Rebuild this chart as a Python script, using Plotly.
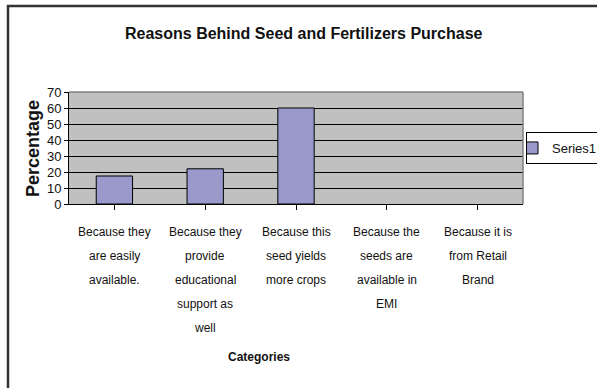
import plotly.graph_objects as go

categories = [
    "Because they<br>are easily<br>available.",
    "Because they<br>provide<br>educational<br>support as<br>well",
    "Because this<br>seed yields<br>more crops",
    "Because the<br>seeds are<br>available in<br>EMI",
    "Because it is<br>from Retail<br>Brand",
]
values = [17.5, 22, 60, 0, 0]
series_name = "Series1"
y_ticks = [0, 10, 20, 30, 40, 50, 60, 70]

FONT = "Liberation Sans, Arial, sans-serif"

W, H = 597, 388
L, R, T, B = 69, 74, 92, 184
pw, ph = W - L - R, H - T - B

def px_x(p):
    return (p - L) / pw

def px_y(p):
    return (H - B - p) / ph

fig = go.Figure()
fig.add_trace(go.Bar(
    x=list(range(len(categories))), y=values, name=series_name,
    marker=dict(color="#9999CC",
                line=dict(color="#000000", width=[1 if v > 0 else 0 for v in values])),
    width=0.4, showlegend=True,
))

annotations = []
for i, cat in enumerate(categories):
    for j, line in enumerate(cat.split("<br>")):
        annotations.append(dict(
            x=i, y=0, xref="x", yref="paper", text=line, showarrow=False,
            yanchor="middle", xanchor="center", yshift=-(28 + 24 * j),
            font=dict(family=FONT, size=12, color="#111111"),
        ))
annotations.append(dict(
    x=px_x(259), y=px_y(357), xref="paper", yref="paper", text="<b>Categories</b>",
    showarrow=False, xanchor="center", yanchor="middle",
    font=dict(family=FONT, size=12, color="#111111"),
))
annotations.append(dict(
    x=px_x(304), y=px_y(33), xref="paper", yref="paper",
    text="<b>Reasons Behind Seed and Fertilizers Purchase</b>",
    showarrow=False, xanchor="center", yanchor="middle",
    font=dict(family=FONT, size=16, color="#111111"),
))
annotations.append(dict(
    x=px_x(33), y=px_y(149), xref="paper", yref="paper", text="<b>Percentage</b>",
    showarrow=False, xanchor="center", yanchor="middle", textangle=-90,
    font=dict(family=FONT, size=18, color="#111111"),
))

shapes = [
    dict(type="line", xref="paper", yref="paper", x0=px_x(8), x1=px_x(8),
         y0=px_y(5), y1=px_y(392), line=dict(color="#333333", width=2.5)),
    dict(type="line", xref="paper", yref="paper", x0=px_x(7), x1=px_x(600),
         y0=px_y(6), y1=px_y(6), line=dict(color="#333333", width=2.5)),
    dict(type="line", xref="paper", yref="paper", x0=0, x1=1, y0=1, y1=1,
         line=dict(color="#808080", width=1.5), layer="above"),
    dict(type="line", xref="paper", yref="paper", x0=1, x1=1, y0=0, y1=1,
         line=dict(color="#808080", width=1.5), layer="above"),
]

fig.update_layout(
    width=W, height=H,
    margin=dict(l=L, r=R, t=T, b=B, autoexpand=False),
    paper_bgcolor="#FFFFFF", plot_bgcolor="#C0C0C0",
    annotations=annotations, shapes=shapes,
    showlegend=True,
    legend=dict(
        xref="container", yref="container",
        x=526 / W, y=1 - 132 / H, xanchor="left", yanchor="top",
        bgcolor="#FFFFFF", bordercolor="#000000", borderwidth=1,
        font=dict(family=FONT, size=13, color="#111111"),
        itemwidth=30, tracegroupgap=0, indentation=-15,
    ),
    xaxis=dict(
        range=[-0.5, len(categories) - 0.5], showticklabels=False,
        tickmode="array", tickvals=list(range(len(categories))),
        ticks="outside", tickson="boundaries", ticklen=5, tickcolor="#000000",
        showline=True, linecolor="#000000", linewidth=1, showgrid=False, zeroline=False,
    ),
    yaxis=dict(
        range=[0, 70], tickmode="array", tickvals=y_ticks,
        ticks="outside", ticklen=4, tickcolor="#000000",
        showline=True, linecolor="#000000", linewidth=1,
        showgrid=True, gridcolor="#000000", gridwidth=1, zeroline=False,
        tickfont=dict(family=FONT, size=13, color="#111111"),
    ),
    bargap=0.6,
)

fig.write_html("out.html")
